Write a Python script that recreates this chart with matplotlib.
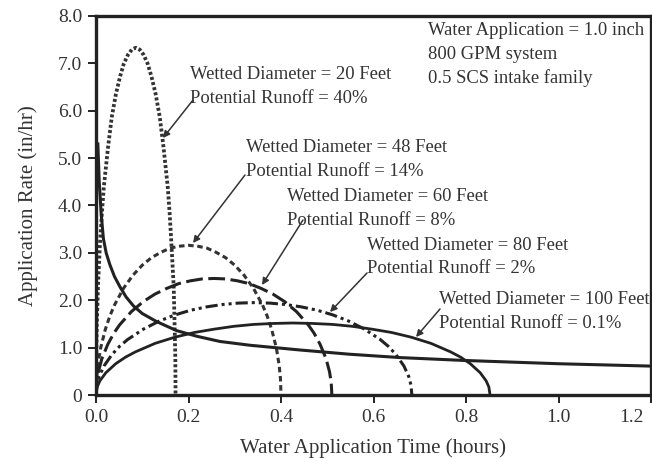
import matplotlib
matplotlib.use("Agg")
import matplotlib.pyplot as plt
from matplotlib.transforms import ScaledTranslation

plt.rcParams['font.family'] = ['Liberation Serif', 'DejaVu Serif']

INK = "#222222"

# ---- data ----
t_20 = [0, 0.0005, 0.0017, 0.0043, 0.0086, 0.0129, 0.017, 0.026, 0.034, 0.043, 0.052, 0.060, 0.069,
        0.0774, 0.086, 0.0946, 0.103, 0.1118, 0.120, 0.129, 0.138, 0.146, 0.155, 0.1591, 0.163,
        0.168, 0.170, 0.1715, 0.172]
r_20 = [0, 0.80, 1.46, 2.29, 3.20, 3.86, 4.40, 5.23, 5.86, 6.35, 6.72, 6.99, 7.18,
        7.29, 7.33, 7.29, 7.18, 6.99, 6.72, 6.35, 5.86, 5.23, 4.40, 3.86, 3.20,
        2.29, 1.46, 0.80, 0]

t_48 = [0, 0.0012, 0.004, 0.010, 0.020, 0.030, 0.040, 0.060, 0.080, 0.100, 0.120, 0.140, 0.160,
        0.180, 0.200, 0.220, 0.240, 0.260, 0.280, 0.300, 0.320, 0.340, 0.360, 0.370, 0.380,
        0.390, 0.396, 0.3988, 0.400]
r_48 = [0, 0.35, 0.63, 0.99, 1.38, 1.67, 1.90, 2.26, 2.53, 2.74, 2.90, 3.01, 3.10,
        3.14, 3.16, 3.14, 3.10, 3.01, 2.90, 2.74, 2.53, 2.26, 1.90, 1.67, 1.38,
        0.99, 0.63, 0.35, 0]

t_60 = [0, 0.0015, 0.0051, 0.0128, 0.0255, 0.0383, 0.051, 0.0765, 0.102, 0.1275, 0.153, 0.1785, 0.204,
        0.2295, 0.255, 0.2805, 0.306, 0.3315, 0.357, 0.3825, 0.408, 0.4335, 0.459, 0.4718, 0.4845,
        0.4973, 0.5049, 0.5085, 0.510]
r_60 = [0, 0.27, 0.49, 0.77, 1.07, 1.30, 1.48, 1.76, 1.97, 2.13, 2.25, 2.35, 2.41,
        2.45, 2.46, 2.45, 2.41, 2.35, 2.25, 2.13, 1.97, 1.76, 1.48, 1.30, 1.07,
        0.77, 0.49, 0.27, 0]

t_80 = [0, 0.002, 0.0068, 0.0171, 0.0342, 0.0512, 0.0683, 0.1025, 0.1366, 0.1708, 0.2049, 0.2391, 0.2732,
        0.3074, 0.3415, 0.3757, 0.4098, 0.444, 0.4781, 0.5123, 0.5464, 0.5806, 0.6147, 0.6318, 0.6489,
        0.6659, 0.6762, 0.681, 0.683]
r_80 = [0, 0.21, 0.39, 0.61, 0.85, 1.03, 1.17, 1.39, 1.56, 1.69, 1.79, 1.86, 1.91,
        1.94, 1.95, 1.94, 1.91, 1.86, 1.79, 1.69, 1.56, 1.39, 1.17, 1.03, 0.85,
        0.61, 0.39, 0.21, 0]

t_100 = [0, 0.0026, 0.0085, 0.0213, 0.0426, 0.0639, 0.0852, 0.1278, 0.1704, 0.213, 0.2556, 0.2982, 0.3408,
         0.3834, 0.426, 0.4686, 0.5112, 0.5538, 0.5964, 0.639, 0.6816, 0.7242, 0.7668, 0.7881, 0.8094,
         0.8307, 0.8435, 0.8494, 0.852]
r_100 = [0, 0.17, 0.30, 0.47, 0.66, 0.80, 0.91, 1.09, 1.22, 1.32, 1.39, 1.45, 1.49,
         1.51, 1.52, 1.51, 1.49, 1.45, 1.39, 1.32, 1.22, 1.09, 0.91, 0.80, 0.66,
         0.47, 0.30, 0.17, 0]

t_intake = [0.004, 0.007, 0.011, 0.016, 0.022, 0.030, 0.040, 0.052, 0.065, 0.081, 0.100,
            0.131, 0.174, 0.218, 0.268, 0.333, 0.441, 0.549, 0.657, 0.794, 1.0, 1.2]
r_intake = [5.3, 4.5, 3.85, 3.3, 3.0, 2.75, 2.5, 2.28, 2.07, 1.88, 1.72,
            1.55, 1.36, 1.24, 1.13, 1.05, 0.95, 0.86, 0.79, 0.73, 0.66, 0.61]

x_ticks = [0.0, 0.2, 0.4, 0.6, 0.8, 1.0, 1.2]
x_tick_labels = ["0.0", "0.2", "0.4", "0.6", "0.8", "1.0", "1.2"]
y_ticks = [0, 1, 2, 3, 4, 5, 6, 7, 8]
y_tick_labels = ["0", "1.0", "2.0", "3.0", "4.0", "5.0", "6.0", "7.0", "8.0"]

labels = [
    ("Wetted Diameter = 20 Feet", "Potential Runoff = 40%"),
    ("Wetted Diameter = 48 Feet", "Potential Runoff = 14%"),
    ("Wetted Diameter = 60 Feet", "Potential Runoff = 8%"),
    ("Wetted Diameter = 80 Feet", "Potential Runoff = 2%"),
    ("Wetted Diameter = 100 Feet", "Potential Runoff = 0.1%"),
]
info_lines = ["Water Application = 1.0 inch", "800 GPM system", "0.5 SCS intake family"]

# ---- figure ----
W, H = 652, 462
fig = plt.figure(figsize=(W / 100, H / 100), dpi=100)
L, R, T, B = 96, 651, 16, 395
ax = fig.add_axes([L / W, 1 - B / H, (R - L) / W, (B - T) / H])

ax.plot(t_20, r_20, color="#333333", lw=2.7, linestyle=(0, (0.8, 0.6)))
ax.plot(t_48, r_48, color="#333333", lw=2.2, linestyle=(0, (1.8, 1.2)))
ax.plot(t_60, r_60, color=INK, lw=2.2, linestyle=(0, (5.5, 1.8)))
ax.plot(t_80, r_80, color=INK, lw=2.2, linestyle=(0, (4.0, 1.3, 1.0, 1.3, 1.0, 1.3)))
ax.plot(t_100, r_100, color=INK, lw=2.0)
ax.plot(t_intake, r_intake, color=INK, lw=2.2)

ax.set_xlim(0, 1.2)
ax.set_ylim(0, 8)
ax.set_xticks(x_ticks)
ax.set_xticklabels(x_tick_labels)
ax.set_yticks(y_ticks)
ax.set_yticklabels(y_tick_labels)
ax.tick_params(direction="out", length=6, width=1.4, color=INK, labelsize=14,
               labelcolor="#333333", pad=4)
for s in ax.spines.values():
    s.set_linewidth(2.4)
    s.set_color(INK)

# keep the last x tick label inside the figure
last = ax.get_xticklabels()[-1]
last.set_horizontalalignment("right")
last.set_transform(last.get_transform() + ScaledTranslation(-7 / 100, 0, fig.dpi_scale_trans))

ax.set_xlabel("Water Application Time (hours)", fontsize=15, color="#333333", labelpad=9)
ax.set_ylabel("Application Rate (in/hr)", fontsize=15, color="#333333", labelpad=14)

# helper: pixel -> data
def px2d(px, py):
    return ((px - L) / (R - L) * 1.2, (B - py) / (B - T) * 8.0)

fs = 13.4
text_pos = [(190, 75), (246, 148), (287, 197), (367, 245), (439, 300)]
gap = 24
for (l1, l2), (px, py) in zip(labels, text_pos):
    x1, y1 = px2d(px, py)
    x2, y2 = px2d(px, py + gap)
    ax.text(x1, y1, l1, fontsize=fs, color="#333333", ha="left", va="center")
    ax.text(x2, y2, l2, fontsize=fs, color="#333333", ha="left", va="center")

arrows = [((193, 100), (163, 138)),
          ((245, 175), (193, 243)),
          ((303, 220), (262, 285)),
          ((367, 273), (330, 312)),
          ((440, 309), (416, 337))]
for (tx, ty), (hx, hy) in arrows:
    ax.annotate("", xy=px2d(hx, hy), xytext=px2d(tx, ty),
                arrowprops=dict(arrowstyle="-|>", color="#333333", lw=1.1,
                                mutation_scale=10, shrinkA=0, shrinkB=0))

for i, line in enumerate(info_lines):
    x, y = px2d(428, 31 + i * 23.5)
    ax.text(x, y, line, fontsize=fs, color="#333333", ha="left", va="center")

fig.savefig("out.png", dpi=100)
